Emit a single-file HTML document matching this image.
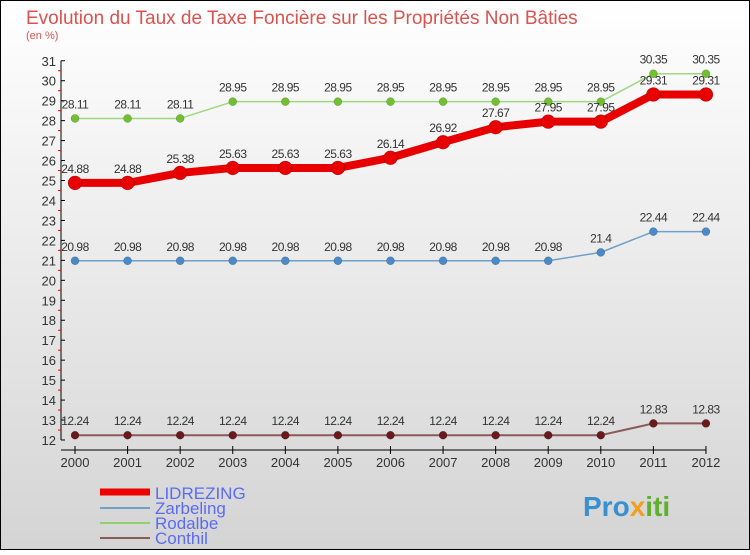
<!DOCTYPE html>
<html><head><meta charset="utf-8"><style>
body{margin:0}
#c{width:750px;height:550px;position:relative;font-family:"Liberation Sans",sans-serif}
</style></head><body>
<div id="c">
<svg id="s" width="750" height="550" xmlns="http://www.w3.org/2000/svg">
<defs><linearGradient id="bg" x1="0" y1="0" x2="0" y2="1"><stop offset="0" stop-color="#ffffff"/><stop offset="1" stop-color="#d4d4d4"/></linearGradient></defs>
<rect x="0.5" y="0.5" width="749" height="549" fill="url(#bg)" stroke="#000"/>
<text x="26" y="24" font-size="19" fill="#d9534f">Evolution du Taux de Taxe Foncière sur les Propriétés Non Bâties</text>
<text x="26" y="39" font-size="11" fill="#d9534f">(en %)</text>
<g id="axes"></g><g id="series"></g>
<g>
<line x1="100" y1="492" x2="150" y2="492" stroke="#e00" stroke-width="7"/>
<text x="155" y="499" font-size="17" fill="#5a6cf0">LIDREZING</text>
<line x1="100" y1="508" x2="150" y2="508" stroke="#6fa0c8" stroke-width="2"/>
<text x="155" y="514" font-size="17" fill="#5a6cf0">Zarbeling</text>
<line x1="100" y1="523" x2="150" y2="523" stroke="#90d070" stroke-width="2"/>
<text x="155" y="529" font-size="17" fill="#5a6cf0">Rodalbe</text>
<line x1="100" y1="538" x2="150" y2="538" stroke="#8a5a5a" stroke-width="2"/>
<text x="155" y="544" font-size="17" fill="#5a6cf0">Conthil</text>
</g>
<text x="583" y="516" font-size="28" font-weight="bold"><tspan fill="#3a8fd0">Pro</tspan><tspan fill="#f0a020">x</tspan><tspan fill="#60b030">iti</tspan></text>
</svg></div>
<script>
const years=[2000,2001,2002,2003,2004,2005,2006,2007,2008,2009,2010,2011,2012];
const lidrezing=[24.88,24.88,25.38,25.63,25.63,25.63,26.14,26.92,27.67,27.95,27.95,29.31,29.31];
const zarbeling=[20.98,20.98,20.98,20.98,20.98,20.98,20.98,20.98,20.98,20.98,21.4,22.44,22.44];
const rodalbe=[28.11,28.11,28.11,28.95,28.95,28.95,28.95,28.95,28.95,28.95,28.95,30.35,30.35];
const conthil=[12.24,12.24,12.24,12.24,12.24,12.24,12.24,12.24,12.24,12.24,12.24,12.83,12.83];
const yTicks=[12,13,14,15,16,17,18,19,20,21,22,23,24,25,26,27,28,29,30,31];
const NS="http://www.w3.org/2000/svg";
const x=i=>75+i*52.58;
const y=v=>440-(v-12)*19.96;
function mk(tag,attrs,parent){const e=document.createElementNS(NS,tag);for(const k in attrs)e.setAttribute(k,attrs[k]);parent.appendChild(e);return e;}
const ax=document.getElementById('axes');
const yl=mk('line',{x1:61,y1:y(31),x2:61,y2:y(12),stroke:'#000'},ax);


const xl=mk('line',{x1:61,y1:450,x2:x(12),y2:450,stroke:'#000'},ax);


yTicks.forEach(v=>{
 mk('line',{x1:61,y1:y(v),x2:65,y2:y(v),stroke:'#000'},ax);
 if(v<31)mk('line',{x1:58,y1:y(v+0.5),x2:61,y2:y(v+0.5),stroke:'#e00'},ax);
 const t=mk('text',{x:56,y:y(v)+5,'font-size':13,'text-anchor':'end',fill:'#333'},ax);
 t.textContent=v;
 
 
});
years.forEach((yr,i)=>{
 mk('line',{x1:x(i),y1:446,x2:x(i),y2:454,stroke:'#000'},ax);
 const t=mk('text',{x:x(i),y:467,'font-size':13,'text-anchor':'middle',fill:'#333'},ax);
 t.textContent=yr;
 
 
});
const sg=document.getElementById('series');
function series(name,data,color,lw,r,dot){
 const g=mk('g',{},sg);
 
 
 const p=mk('polyline',{points:data.map((v,i)=>x(i)+','+y(v)).join(' '),fill:'none',stroke:color,'stroke-width':lw,'stroke-linejoin':'round'},g);
 
 
 data.forEach((v,i)=>{
  const c=mk('circle',{cx:x(i),cy:y(v),r:r,fill:dot,stroke:'rgba(0,0,0,0.3)','stroke-width':0.5},g);
  
  
  const t=mk('text',{x:x(i),y:y(v)-10,'font-size':12,'text-anchor':'middle',fill:'#333','letter-spacing':'-0.5'},g);
  t.textContent=v;
  
  
 });
}
series('conthil',conthil,'#8a5a5a',2,4,'#6a1a1a');
series('zarbeling',zarbeling,'#6fa0c8',1.5,4,'#4a8ac8');
series('rodalbe',rodalbe,'#a0d880',1.5,4,'#70c030');
series('lidrezing',lidrezing,'#e80000',8,7,'#e80000');
</script>
</body></html>
